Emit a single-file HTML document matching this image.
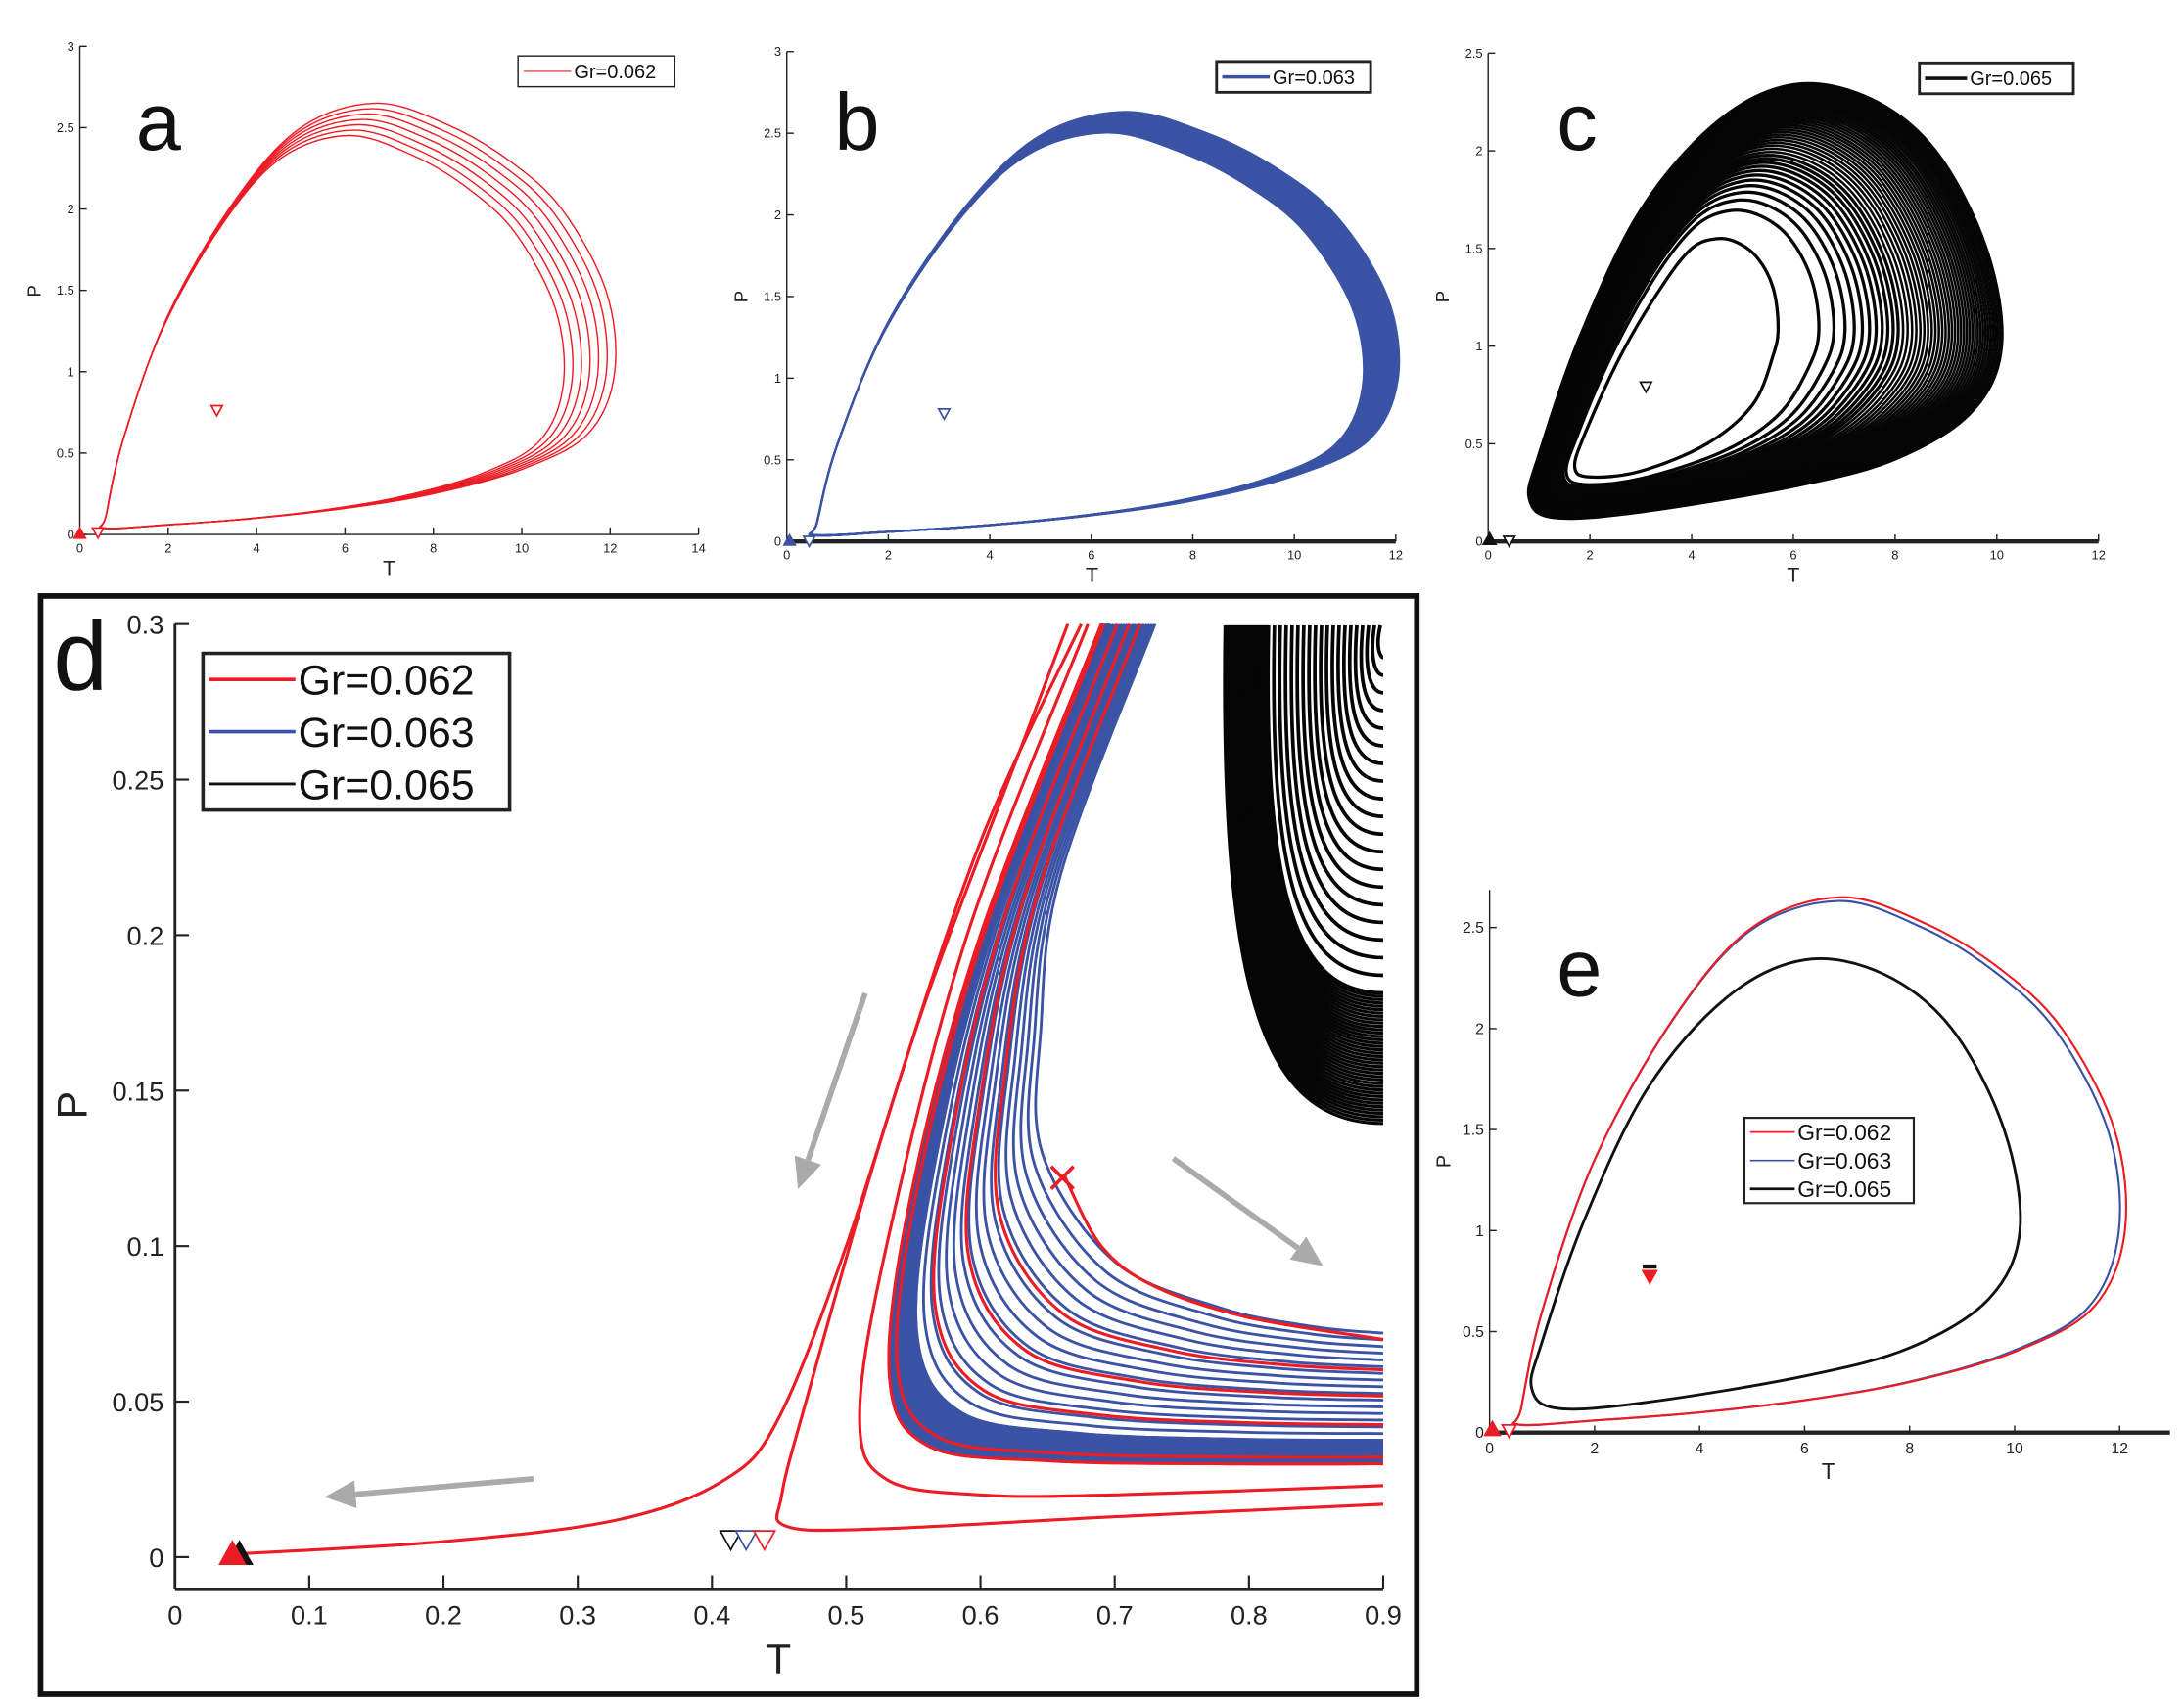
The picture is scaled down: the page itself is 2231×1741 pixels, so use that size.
<!DOCTYPE html>
<html><head><meta charset="utf-8"><style>
html,body{margin:0;padding:0;background:#fff;}
svg{display:block;}
text{font-family:"Liberation Sans",sans-serif;}
</style></head><body>
<svg id="s" xmlns="http://www.w3.org/2000/svg" width="2231" height="1741" viewBox="0 0 1560 1218" preserveAspectRatio="none">
<rect width="1560" height="1218" fill="#fff"/>
<g id="g"></g>
</svg>
<script>
var NS="http://www.w3.org/2000/svg",G=document.getElementById('g');
function el(t,a,txt){var e=document.createElementNS(NS,t);for(var k in a)e.setAttribute(k,a[k]);if(txt!==undefined)e.textContent=txt;G.appendChild(e);return e;}
function cr(p,closed){var n=p.length,d='M'+p[0][0].toFixed(1)+' '+p[0][1].toFixed(1);
 var last=closed?n:n-1;
 for(var i=0;i<last;i++){var p0=p[closed?(i-1+n)%n:Math.max(i-1,0)],p1=p[i],p2=p[(i+1)%n],p3=p[closed?(i+2)%n:Math.min(i+2,n-1)];
  d+='C'+(p1[0]+(p2[0]-p0[0])/6).toFixed(1)+' '+(p1[1]+(p2[1]-p0[1])/6).toFixed(1)+' '+(p2[0]-(p3[0]-p1[0])/6).toFixed(1)+' '+(p2[1]-(p3[1]-p1[1])/6).toFixed(1)+' '+p2[0].toFixed(1)+' '+p2[1].toFixed(1);}
 return closed?d+'Z':d;}
function mapper(x0,y0,sx,sy){return function(p){return [x0+p[0]*sx,y0-p[1]*sy];};}
function axes(ox,oy,xend,ytop,sx,sy,xt,yt,fs,xlab,ylab,thick){
 el('line',{x1:ox,y1:oy,x2:xend,y2:oy,stroke:'#222','stroke-width':thick});
 el('line',{x1:ox,y1:oy,x2:ox,y2:ytop,stroke:'#222','stroke-width':1});
 xt.forEach(function(v){var x=ox+v*sx;el('line',{x1:x,y1:oy,x2:x,y2:oy-5,stroke:'#222','stroke-width':1});el('text',{x:x,y:oy+fs+4,'font-size':fs,'text-anchor':'middle',fill:'#222'},String(v));});
 yt.forEach(function(v){var y=oy-v*sy;el('line',{x1:ox,y1:y,x2:ox+5,y2:y,stroke:'#222','stroke-width':1});el('text',{x:ox-4,y:y+fs*0.35,'font-size':fs,'text-anchor':'end',fill:'#222'},String(v));});
 el('text',{x:xlab[0],y:xlab[1],'font-size':xlab[2],'text-anchor':'middle',fill:'#222'},'T');
 el('text',{x:ylab[0],y:ylab[1],'font-size':ylab[2],'text-anchor':'middle',fill:'#222',transform:'rotate(-90 '+ylab[0]+' '+ylab[1]+')'},'P');
}
var RED='#ec1c24',BLUE='#3a53a4';
var redLoop=[[0.55,0.04],[2,0.06],[4,0.1],[6,0.16],[8,0.25],[10,0.4],[11.5,0.62],[12.1,1.0],[11.9,1.5],[10.9,2.0],[9.7,2.3],[8.3,2.52],[6.7,2.65],[5,2.5],[3.5,2.05],[2,1.35],[1,0.6],[0.6,0.12]];
var blkLoop=[[1.3,0.12],[3,0.15],[6,0.28],[8,0.42],[9.5,0.66],[10.1,1.0],[9.8,1.5],[8.8,2.0],[7.5,2.27],[6,2.34],[4.5,2.15],[3,1.7],[1.8,1.05],[1.0,0.45],[0.8,0.22]];
var innerLoop=[[2.0,0.33],[3,0.36],[4.3,0.5],[5.2,0.7],[5.6,0.95],[5.7,1.1],[5.6,1.3],[5.3,1.45],[4.9,1.53],[4.5,1.55],[4.0,1.5],[3.4,1.3],[2.6,0.95],[1.9,0.55],[1.7,0.38]];
function scaleLoop(L,fx,fy){return L.map(function(p){return [0.5+(p[0]-0.5)*fx,p[1]*fy];});}
function interp(A,B,t){return A.map(function(p,i){return [p[0]+(B[i][0]-p[0])*t,p[1]+(B[i][1]-p[1])*t];});}
function tri(x,y,s,fill,stroke,down){var h=s*0.9;var pts=down?[[x-s/2,y-h/2],[x+s/2,y-h/2],[x,y+h/2]]:[[x-s/2,y+h/2],[x+s/2,y+h/2],[x,y-h/2]];
 el('polygon',{points:pts.map(function(p){return p.join(',')}).join(' '),fill:fill,stroke:stroke,'stroke-width':1.2});}
function legend(x,y,w,h,items,fs,lw,bw){el('rect',{x:x,y:y,width:w,height:h,fill:'#fff',stroke:'#222','stroke-width':bw});
 items.forEach(function(it,i){var yy=y+h/items.length*(i+0.5);el('line',{x1:x+4,y1:yy,x2:x+4+lw,y2:yy,stroke:it[0],'stroke-width':it[2]});el('text',{x:x+6+lw,y:yy+fs*0.36,'font-size':fs,fill:'#111'},it[1]);});}

// ---------- panel a ----------
(function(){var m=mapper(57,382,31.57,116.3);
 axes(57,382,499,33,31.57,116.3,[0,2,4,6,8,10,12,14],[0,0.5,1,1.5,2,2.5,3],9,[278,411,15],[29,208,13],1);
 for(var k=0;k<7;k++){var f=0.9+k*0.0167,fy=0.925+k*0.0125;var L=scaleLoop(redLoop,f,fy).map(m);el('path',{d:cr(L,true),fill:'none',stroke:RED,'stroke-width':1});}
 tri(57,381,8,RED,RED,false);tri(70,381,8,'#fff',RED,true);
 var p=m([3.1,0.76]);tri(p[0],p[1],8,'#fff',RED,true);
 el('text',{x:97,y:107,'font-size':58,fill:'#111'},'a');
 legend(370,40,112,22,[[RED,'Gr=0.062',0.8]],14,34,1);
})();
// ---------- panel b ----------
(function(){var m=mapper(562,387,36.25,116.7);
 axes(562,387,997,37,36.25,116.7,[0,2,4,6,8,10,12],[0,0.5,1,1.5,2,2.5,3],9,[780,416,15],[534,212,13],3);
 for(var k=0;k<24;k++){var t=k/23;var L=scaleLoop(redLoop,0.935+0.06*t,0.945+0.048*t).map(m);el('path',{d:cr(L,true),fill:'none',stroke:BLUE,'stroke-width':1.4});}
 tri(564,386,8,BLUE,BLUE,false);tri(578,387,8,'#fff',BLUE,true);
 var p=m([3.1,0.78]);tri(p[0],p[1],8,'#fff',BLUE,true);
 el('text',{x:596,y:107,'font-size':58,fill:'#111'},'b');
 legend(869,44,110,22,[[BLUE,'Gr=0.063',2.5]],14,34,2);
})();
// ---------- panel c ----------
(function(){var m=mapper(1063,387,36.33,139.6);
 axes(1063,387,1499,38,36.33,139.6,[0,2,4,6,8,10,12],[0,0.5,1,1.5,2,2.5],9,[1281,416,15],[1035,212,13],3);
 for(var k=0;k<45;k++){var t=Math.pow(k/44,0.45);var L=interp(innerLoop,blkLoop,t).map(m);el('path',{d:cr(L,true),fill:'none',stroke:'#050505','stroke-width':k<12?2.3:1.8});}
 tri(1064,385,9,'#111','#111',false);tri(1078,387,8,'#fff','#111',true);
 var p=m([3.1,0.79]);tri(p[0],p[1],8,'#fff','#111',true);
 el('text',{x:1112,y:107,'font-size':58,fill:'#111'},'c');
 legend(1371,45,110,22,[['#111','Gr=0.065',2.5]],14,30,2);
})();
// ---------- panel e ----------
(function(){var m=mapper(1064,1024,37.5,144.4);
 axes(1064,1024,1550,636,37.5,144.4,[0,2,4,6,8,10,12],[0,0.5,1,1.5,2,2.5],11,[1306,1057,16],[1036,830,14],3);
 el('path',{d:cr(scaleLoop(redLoop,0.99,0.993).map(m),true),fill:'none',stroke:BLUE,'stroke-width':1.5});
 el('path',{d:cr(redLoop.map(m),true),fill:'none',stroke:RED,'stroke-width':1.5});
 el('path',{d:cr(blkLoop.map(m),true),fill:'none',stroke:'#111','stroke-width':2});
 tri(1066,1021,11,RED,RED,false);tri(1078,1023,10,'#fff',RED,true);
 var p=m([3.05,0.77]);el('rect',{x:p[0]-5,y:p[1]-9,width:10,height:3,fill:'#111'});tri(p[0],p[1],10,RED,RED,true);
 el('text',{x:1112,y:712,'font-size':58,fill:'#111'},'e');
 legend(1246,799,121,61,[[RED,'Gr=0.062',1.2],[BLUE,'Gr=0.063',1.2],['#111','Gr=0.065',2]],16,32,1.5);
})();
// ---------- panel d ----------
(function(){
 el('rect',{x:29,y:426,width:983,height:785,fill:'none',stroke:'#111','stroke-width':4});
 var ox=125,oy=1113,sx=958.9,sy=2223;var m=mapper(ox,oy,sx,sy);
 el('line',{x1:ox,y1:1136,x2:988,y2:1136,stroke:'#222','stroke-width':2.5});
 el('line',{x1:ox,y1:1136,x2:ox,y2:446,stroke:'#222','stroke-width':2});
 [0,0.1,0.2,0.3,0.4,0.5,0.6,0.7,0.8,0.9].forEach(function(v){var x=ox+v*sx;el('line',{x1:x,y1:1136,x2:x,y2:1126,stroke:'#222','stroke-width':1.5});el('text',{x:x,y:1161,'font-size':19,'text-anchor':'middle',fill:'#222'},String(v));});
 [0,0.05,0.1,0.15,0.2,0.25,0.3].forEach(function(v){var y=oy-v*sy;el('line',{x1:ox,y1:y,x2:ox+10,y2:y,stroke:'#222','stroke-width':1.5});el('text',{x:ox-8,y:y+7,'font-size':19,'text-anchor':'end',fill:'#222'},String(v));});
 el('text',{x:556,y:1196,'font-size':30,'text-anchor':'middle',fill:'#222'},'T');
 el('text',{x:62,y:790,'font-size':30,'text-anchor':'middle',fill:'#222',transform:'rotate(-90 62 790)'},'P');
 el('text',{x:38,y:493,'font-size':70,fill:'#111'},'d');
 var clip=el('clipPath',{id:'cd'});var r=document.createElementNS(NS,'rect');r.setAttribute('x',125);r.setAttribute('y',446);r.setAttribute('width',864);r.setAttribute('height',690);clip.appendChild(r);
 for(var k=0;k<60;k++){var t=k<40?0.28*k/39:0.28+0.72*(k-40)/19;var xt=875+(986-875)*t,yr=803-(803-470)*t;
  el('path',{d:'M'+xt+' 447 C'+(xt-4)+' '+(447+0.75*(yr-447))+' '+(xt+0.25*(988-xt))+' '+yr+' 988 '+yr,fill:'none',stroke:'#050505','stroke-width':k<40?2.2:2.6,'clip-path':'url(#cd)'});}
 var outer=[[0.69,0.3],[0.6,0.2],[0.55,0.12],[0.532,0.06],[0.56,0.036],[0.65,0.031],[0.78,0.03],[0.9,0.03]];
 var innr=[[0.73,0.3],[0.66,0.22],[0.645,0.17],[0.646,0.13],[0.7,0.095],[0.78,0.08],[0.85,0.074],[0.9,0.072]];
 function U(t){return cr(interp(outer,innr,t).map(m),false);}
 for(var k=0;k<45;k++){var t=k<28?0.18*k/27:0.18+0.82*(k-28)/16;el('path',{d:U(t),fill:'none',stroke:BLUE,'stroke-width':2});}
 [0.0,0.05,0.3,0.52,0.72].forEach(function(t){el('path',{d:U(t),fill:'none',stroke:RED,'stroke-width':2.2});});
 el('path',{d:cr([[0.662,0.123],[0.69,0.1],[0.73,0.087],[0.8,0.077],[0.9,0.07]].map(m),false),fill:'none',stroke:RED,'stroke-width':2.2});
 var xp=m([0.661,0.122]);el('path',{d:'M'+(xp[0]-8)+' '+(xp[1]-8)+'L'+(xp[0]+8)+' '+(xp[1]+8)+'M'+(xp[0]+8)+' '+(xp[1]-8)+'L'+(xp[0]-8)+' '+(xp[1]+8),stroke:RED,'stroke-width':2.5});
 el('path',{d:cr([[0.045,0.001],[0.2,0.005],[0.33,0.012],[0.41,0.025],[0.45,0.045],[0.5,0.1],[0.56,0.18],[0.63,0.26],[0.665,0.3]].map(m),false),fill:'none',stroke:RED,'stroke-width':2.2});
 el('path',{d:cr([[0.9,0.017],[0.7,0.013],[0.52,0.009],[0.455,0.01],[0.452,0.02],[0.47,0.05],[0.53,0.14],[0.6,0.23],[0.675,0.3]].map(m),false),fill:'none',stroke:RED,'stroke-width':2.2});
 el('path',{d:cr([[0.9,0.023],[0.7,0.02],[0.6,0.02],[0.53,0.025],[0.51,0.045],[0.53,0.1],[0.59,0.2],[0.68,0.3]].map(m),false),fill:'none',stroke:RED,'stroke-width':2.2});
 function arr(x1,y1,x2,y2){var a=Math.atan2(y2-y1,x2-x1),L=22,W=10;var bx=x2-L*Math.cos(a),by=y2-L*Math.sin(a);
  el('line',{x1:x1,y1:y1,x2:bx,y2:by,stroke:'#aaa','stroke-width':4});
  el('polygon',{points:[x2+','+y2,(bx+W*Math.sin(a))+','+(by-W*Math.cos(a)),(bx-W*Math.sin(a))+','+(by+W*Math.cos(a))].join(' '),fill:'#aaa'});}
 arr(618,710,570,850);arr(381,1057,232,1070);arr(838,828,945,905);
 tri(171,1110,18,'#111','#111',false);tri(166,1110,18,RED,RED,false);
 tri(522,1101,15,'#fff','#111',true);tri(533,1101,15,'#fff',BLUE,true);tri(546,1101,15,'#fff',RED,true);
 legend(145,467,219,112,[[RED,'Gr=0.062',2.5],[BLUE,'Gr=0.063',2.5],['#111','Gr=0.065',2]],30,62,2.5);
})();
</script>
</body></html>
